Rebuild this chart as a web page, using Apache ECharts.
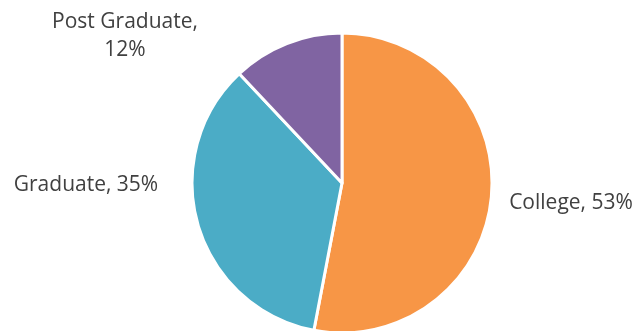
<!DOCTYPE html>
<html>
<head>
<meta charset="utf-8">
<script src="https://cdn.jsdelivr.net/npm/echarts@6/dist/echarts.min.js"></script>
<style>
  html, body { margin: 0; padding: 0; background: #fff; }
  #chart { width: 635px; height: 331px; }
</style>
</head>
<body>
<div id="chart"></div>
<script>
// Education level shares
const categories = ['College', 'Graduate', 'Post Graduate'];
const shares = [53, 35, 12];
const colors = ['#F79646', '#4BACC6', '#8064A2'];

// Where each label sits (label centre, in pixels)
const labelSpots = [
  { x: 571, y: 203 },
  { x: 86, y: 185 },
  { x: 125, y: 36 }
];
const labelText = ['College, 53%', 'Graduate, 35%', 'Post Graduate,\n12%'];

const chart = echarts.init(document.getElementById('chart'), null, { renderer: 'canvas' });
chart.setOption({
  animation: false,
  series: [{
    type: 'pie',
    center: [342, 183],
    radius: [0, 150],
    startAngle: 90,
    clockwise: true,
    data: categories.map((name, i) => ({
      name,
      value: shares[i],
      itemStyle: { color: colors[i] }
    })),
    itemStyle: { borderColor: '#fff', borderWidth: 3 },
    label: {
      show: true,
      position: 'outside',
      formatter: p => labelText[p.dataIndex],
      fontFamily: '"Open Sans", sans-serif',
      fontSize: 21,
      lineHeight: 28,
      color: '#404040',
      align: 'center',
      overflow: 'none',
      width: 300
    },
    labelLine: { show: false },
    labelLayout: p => ({
      x: labelSpots[p.dataIndex].x,
      y: labelSpots[p.dataIndex].y,
      align: 'center',
      verticalAlign: 'middle'
    })
  }]
});
</script>
</body>
</html>
